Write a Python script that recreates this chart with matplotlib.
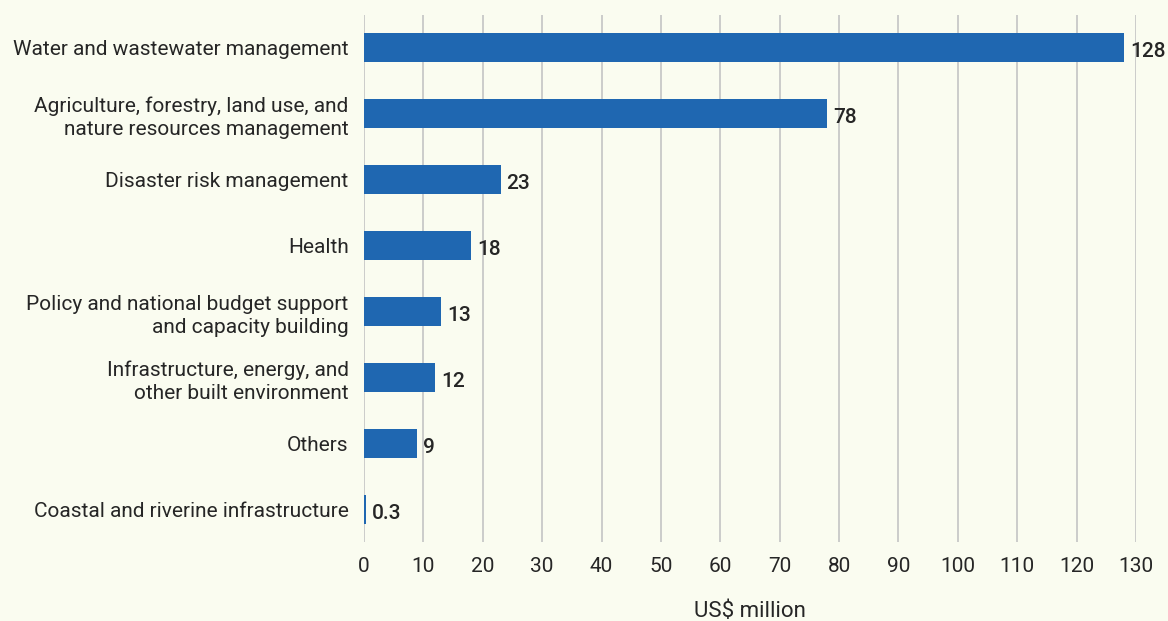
import matplotlib.pyplot as plt

# Data
categories = [
    "Water and wastewater management",
    "Agriculture, forestry, land use, and\nnature resources management",
    "Disaster risk management",
    "Health",
    "Policy and national budget support\nand capacity building",
    "Infrastructure, energy, and\nother built environment",
    "Others",
    "Coastal and riverine infrastructure",
]
values = [128, 78, 23, 18, 13, 12, 9, 0.3]
value_labels = ["128", "78", "23", "18", "13", "12", "9", "0.3"]
xticks = list(range(0, 131, 10))

plt.rcParams['font.family'] = ['Roboto', 'DejaVu Sans']
bg = "#fafcf0"
bar_color = "#1f67b1"
text_color = "#262626"

fig = plt.figure(figsize=(11.68, 6.21), dpi=100, facecolor=bg)
ax = fig.add_axes([364 / 1168, 1 - 542 / 621, (1136 - 364) / 1168, (542 - 15) / 621])
ax.set_facecolor(bg)

ypos = list(range(len(categories)))
ax.barh(ypos, values, height=0.45, color=bar_color, zorder=3)

for y, v, lab in zip(ypos, values, value_labels):
    ax.text(v + 1.0, y + 0.06, lab, va='center', ha='left', fontsize=15,
            fontweight='medium', color=text_color)

ax.set_xlim(0, 130)
ax.set_ylim(7.49, -0.49)
ax.set_xticks(xticks)
ax.set_yticks(ypos)
ax.set_yticklabels(categories, fontsize=15, color=text_color, linespacing=1.3)
ax.tick_params(axis='x', labelsize=15, colors=text_color, length=0, pad=11)
ax.tick_params(axis='y', length=0, pad=11)
ax.grid(axis='x', color='#c8c8c8', linewidth=1.3, zorder=0)
for s in ax.spines.values():
    s.set_visible(False)

ax.set_xlabel("US$ million", fontsize=16, color=text_color, labelpad=18)

fig.savefig("out.png", dpi=100, facecolor=bg)
